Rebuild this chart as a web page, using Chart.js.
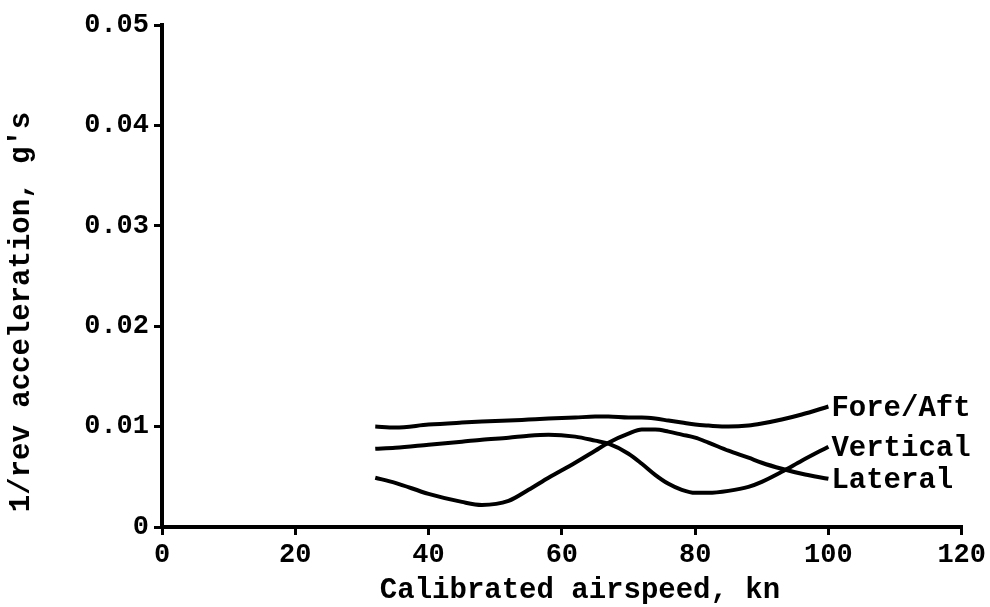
<!DOCTYPE html>
<html>
<head>
<meta charset="utf-8">
<script src="https://cdn.jsdelivr.net/npm/chart.js@4/dist/chart.umd.min.js"></script>
<style>
  html, body { margin: 0; padding: 0; background: #fff; }
  #wrap { width: 990px; height: 607px; }
</style>
</head>
<body>
<div id="wrap"><canvas id="accChart" width="990" height="607"></canvas></div>
<script>
// 1/rev acceleration vs calibrated airspeed
const speeds = [32, 35, 40, 45, 48, 52, 55, 58, 62, 65, 67, 70, 72, 74, 76, 78, 80, 82, 85, 88, 90, 93, 96, 100];
const foreAft = [0.0100, 0.0099, 0.0102, 0.0104, 0.0105, 0.0106, 0.0107, 0.0108, 0.0109, 0.0110, 0.0110, 0.0109,
  0.0109, 0.0108, 0.0106, 0.0104, 0.0102, 0.0101, 0.0100, 0.0101, 0.0103, 0.0107, 0.0112, 0.0120];
const vertical = [0.0078, 0.0079, 0.0082, 0.0085, 0.0087, 0.0089, 0.0091, 0.0092, 0.0090, 0.0086, 0.0083, 0.0073,
  0.0063, 0.0052, 0.0043, 0.0037, 0.0034, 0.0034, 0.0036, 0.0040, 0.0045, 0.0055, 0.0066, 0.0080];
const lateral = [0.0049, 0.0044, 0.0033, 0.0025, 0.0022, 0.0026, 0.0037, 0.0049, 0.0064, 0.0076, 0.0084, 0.0093,
  0.0097, 0.0097, 0.0095, 0.0092, 0.0089, 0.0084, 0.0076, 0.0069, 0.0064, 0.0058, 0.0053, 0.0048];
const seriesNames = ["Fore/Aft", "Vertical", "Lateral"];
const xTitle = "Calibrated airspeed, kn";
const yTitle = "1/rev acceleration, g's";

const FONT = "'Liberation Mono', 'DejaVu Sans Mono', monospace";

function toPoints(values) {
  return speeds.map((s, i) => ({ x: s, y: values[i] }));
}

function makeSet(name, values) {
  return {
    label: name,
    data: toPoints(values),
    borderColor: "#000",
    borderWidth: 4,
    pointRadius: 0,
    fill: false,
    cubicInterpolationMode: "monotone",
  };
}

// names at the end of each curve, plus the two axis titles
const labelPlugin = {
  id: "curveLabels",
  afterDraw(chart) {
    const ctx = chart.ctx;
    const xs = chart.scales.x;
    const ys = chart.scales.y;
    ctx.save();
    ctx.fillStyle = "#000";
    ctx.font = "bold 29px " + FONT;
    ctx.textAlign = "left";
    ctx.textBaseline = "middle";
    chart.data.datasets.forEach((ds) => {
      const last = ds.data[ds.data.length - 1];
      ctx.fillText(ds.label, xs.getPixelForValue(last.x) + 3, ys.getPixelForValue(last.y) + 2);
    });

    ctx.textAlign = "center";
    ctx.fillText(xTitle, 580, 591);

    ctx.translate(22, 312);
    ctx.rotate(-Math.PI / 2);
    ctx.fillText(yTitle, 0, 0);
    ctx.restore();
  },
};

const chartConfig = {
  type: "line",
  data: {
    datasets: [
      makeSet(seriesNames[0], foreAft),
      makeSet(seriesNames[1], vertical),
      makeSet(seriesNames[2], lateral),
    ],
  },
  options: {
    responsive: false,
    animation: false,
    layout: { padding: { left: 0, right: 28, top: 25, bottom: 0 } },
    plugins: {
      legend: { display: false },
      tooltip: { enabled: false },
    },
    scales: {
      x: {
        type: "linear",
        min: 0,
        max: 120,
        afterFit: (scale) => { scale.height = 80; },
        border: { display: true, color: "#000", width: 4 },
        grid: { drawOnChartArea: false, color: "#000", lineWidth: 3, tickLength: 8 },
        ticks: {
          stepSize: 20,
          color: "#000",
          padding: 4,
          font: { family: FONT, size: 27, weight: "bold" },
        },
      },
      y: {
        min: 0,
        max: 0.05,
        afterFit: (scale) => { scale.width = 162; },
        border: { display: true, color: "#000", width: 4 },
        grid: { drawOnChartArea: false, color: "#000", lineWidth: 3, tickLength: 8 },
        ticks: {
          stepSize: 0.01,
          color: "#000",
          padding: 5,
          font: { family: FONT, size: 27, weight: "bold" },
          callback: (v) => (v === 0 ? "0" : v.toFixed(2)),
        },
      },
    },
  },
  plugins: [labelPlugin],
};

const ctx = document.getElementById("accChart").getContext("2d");
const accChart = new Chart(ctx, chartConfig);
</script>
</body>
</html>
